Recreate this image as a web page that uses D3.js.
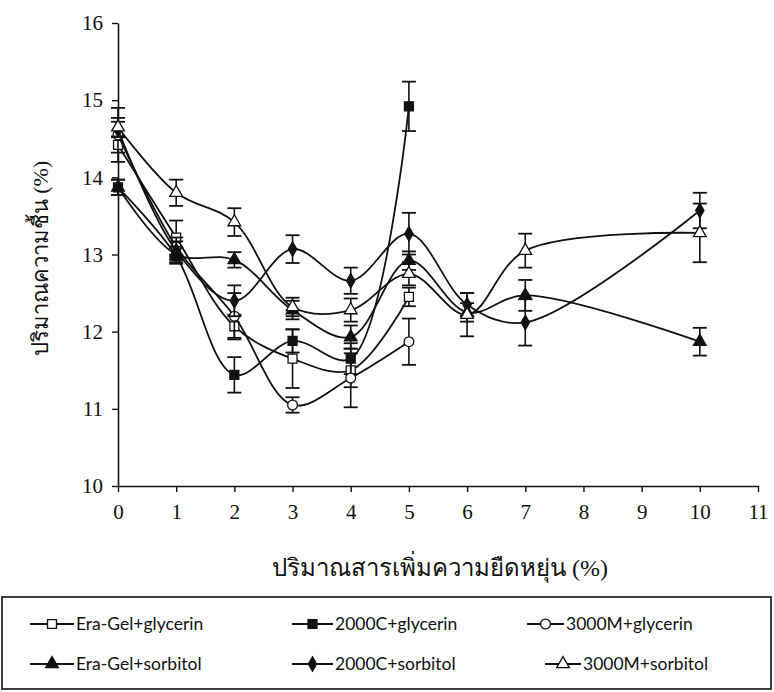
<!DOCTYPE html>
<html>
<head>
<meta charset="utf-8">
<script src="https://cdn.jsdelivr.net/npm/d3@7"></script>
<style>
  html, body { margin: 0; padding: 0; background: #fff; }
  svg { display: block; }
  .serif { font-family: "Liberation Serif", "DejaVu Serif", serif; }
  .legend-text { font-family: Lato, "Open Sans", sans-serif; }
</style>
</head>
<body>
<svg id="chart" width="774" height="692"></svg>
<script>
// Moisture content (%) versus plasticizer amount (%)
const xTicks = [0, 1, 2, 3, 4, 5, 6, 7, 8, 9, 10, 11];
const yTicks = [10, 11, 12, 13, 14, 15, 16];

const xGlycerin = [0, 1, 2, 3, 4, 5];
const xSorbitol = [0, 1, 2, 3, 4, 5, 6, 7, 10];

const eraGelGlycerin = [14.42, 13.22, 12.07, 11.65, 11.50, 12.45];
const eraGelGlycerinErr = [0.10, 0.22, 0.15, 0.38, 0.22, 0.12];

const c2000Glycerin = [13.87, 12.98, 11.44, 11.88, 11.65, 14.92];
const c2000GlycerinErr = [0.10, 0.10, 0.23, 0.15, 0.20, 0.32];

const m3000Glycerin = [14.55, 13.10, 12.20, 11.05, 11.40, 11.87];
const m3000GlycerinErr = [0.35, 0.12, 0.30, 0.10, 0.38, 0.30];

const eraGelSorbitol = [13.87, 13.00, 12.93, 12.28, 11.93, 12.92, 12.25, 12.47, 11.87];
const eraGelSorbitolErr = [0.10, 0.10, 0.10, 0.12, 0.15, 0.12, 0.12, 0.20, 0.18];

const c2000Sorbitol = [14.62, 13.05, 12.40, 13.07, 12.66, 13.27, 12.35, 12.12, 13.57];
const c2000SorbitolErr = [0.10, 0.12, 0.20, 0.18, 0.17, 0.27, 0.15, 0.30, 0.23];

const m3000Sorbitol = [14.65, 13.80, 13.42, 12.32, 12.28, 12.75, 12.22, 13.05, 13.28];
const m3000SorbitolErr = [0.12, 0.17, 0.18, 0.12, 0.15, 0.15, 0.28, 0.22, 0.38];

const seriesNames = ["Era-Gel+glycerin", "2000C+glycerin", "3000M+glycerin",
                     "Era-Gel+sorbitol", "2000C+sorbitol", "3000M+sorbitol"];

const series = [
  { name: seriesNames[0], x: xGlycerin, y: eraGelGlycerin, e: eraGelGlycerinErr, marker: "square", fill: "#fff" },
  { name: seriesNames[1], x: xGlycerin, y: c2000Glycerin, e: c2000GlycerinErr, marker: "square", fill: "#111" },
  { name: seriesNames[2], x: xGlycerin, y: m3000Glycerin, e: m3000GlycerinErr, marker: "circle", fill: "#fff" },
  { name: seriesNames[3], x: xSorbitol, y: eraGelSorbitol, e: eraGelSorbitolErr, marker: "triangle", fill: "#111" },
  { name: seriesNames[4], x: xSorbitol, y: c2000Sorbitol, e: c2000SorbitolErr, marker: "diamond", fill: "#111" },
  { name: seriesNames[5], x: xSorbitol, y: m3000Sorbitol, e: m3000SorbitolErr, marker: "triangle", fill: "#fff" }
];

const ink = "#111";
const svg = d3.select("#chart");

const plot = { left: 118, right: 758, top: 23, bottom: 486 };
const x = d3.scaleLinear().domain([0, 11]).range([plot.left, plot.right]);
const y = d3.scaleLinear().domain([10, 16]).range([plot.bottom, plot.top]);

// Axes
const xAxis = d3.axisBottom(x).tickValues(xTicks).tickFormat(d3.format("d"))
  .tickSize(6).tickSizeOuter(0).tickPadding(12);
const yAxis = d3.axisLeft(y).tickValues(yTicks).tickFormat(d3.format("d"))
  .tickSize(6).tickSizeOuter(0).tickPadding(9);

const gx = svg.append("g").attr("transform", `translate(0,${plot.bottom})`).call(xAxis);
const gy = svg.append("g").attr("transform", `translate(${plot.left},0)`).call(yAxis);
[gx, gy].forEach(g => {
  g.attr("font-family", null).attr("font-size", null);
  g.select(".domain").attr("stroke", ink).attr("stroke-width", 1.6);
  g.selectAll(".tick line").attr("stroke", ink).attr("stroke-width", 1.4);
  g.selectAll(".tick text")
    .attr("class", "serif")
    .attr("fill", ink)
    .attr("font-size", 21);
});

// Axis titles
svg.append("text")
  .attr("class", "serif")
  .attr("transform", `translate(48,${(plot.top + plot.bottom) / 2 + 4}) rotate(-90)`)
  .attr("text-anchor", "middle")
  .attr("fill", ink)
  .attr("font-size", 22)
  .text("ปริมาณความชื้น (%)");

svg.append("text")
  .attr("class", "serif")
  .attr("x", 440)
  .attr("y", 576)
  .attr("text-anchor", "middle")
  .attr("fill", ink)
  .attr("font-size", 24)
  .text("ปริมาณสารเพิ่มความยืดหยุ่น (%)");

// Marker shapes
function markerPath(type) {
  switch (type) {
    case "square": return d3.symbol(d3.symbolSquare, 80)();
    case "circle": return d3.symbol(d3.symbolCircle, 75)();
    case "triangle": return d3.symbol(d3.symbolTriangle, 70)();
    case "diamond": return d3.symbol(d3.symbolDiamond, 60)();
  }
}

const line = d3.line()
  .x(d => x(d.x))
  .y(d => y(d.y))
  .curve(d3.curveCatmullRom.alpha(0.5));

const capHalf = 7;
series.forEach(s => {
  const pts = s.x.map((xv, i) => ({ x: xv, y: s.y[i], e: s.e[i] }));
  const g = svg.append("g");

  g.append("path")
    .datum(pts)
    .attr("d", line)
    .attr("fill", "none")
    .attr("stroke", ink)
    .attr("stroke-width", 1.8);

  const eb = g.selectAll(".eb").data(pts).join("g");
  eb.append("line")
    .attr("x1", d => x(d.x)).attr("x2", d => x(d.x))
    .attr("y1", d => y(d.y - d.e)).attr("y2", d => y(d.y + d.e))
    .attr("stroke", ink).attr("stroke-width", 1.6);
  eb.append("line")
    .attr("x1", d => x(d.x) - capHalf).attr("x2", d => x(d.x) + capHalf)
    .attr("y1", d => y(d.y + d.e)).attr("y2", d => y(d.y + d.e))
    .attr("stroke", ink).attr("stroke-width", 1.8);
  eb.append("line")
    .attr("x1", d => x(d.x) - capHalf).attr("x2", d => x(d.x) + capHalf)
    .attr("y1", d => y(d.y - d.e)).attr("y2", d => y(d.y - d.e))
    .attr("stroke", ink).attr("stroke-width", 1.8);

  g.selectAll(".mk").data(pts).join("path")
    .attr("d", markerPath(s.marker))
    .attr("transform", d => `translate(${x(d.x)},${y(d.y)})`)
    .attr("fill", s.fill)
    .attr("stroke", ink)
    .attr("stroke-width", 1.3);
});

// Legend
const legend = svg.append("g");
legend.append("rect")
  .attr("x", 2).attr("y", 597)
  .attr("width", 769).attr("height", 92)
  .attr("fill", "#fff")
  .attr("stroke", ink)
  .attr("stroke-width", 1.6);

const legendPos = [
  { lx: 30, tx: 76, row: 0 },
  { lx: 292, tx: 335, row: 0 },
  { lx: 527, tx: 566, row: 0 },
  { lx: 30, tx: 76, row: 1 },
  { lx: 292, tx: 335, row: 1 },
  { lx: 545, tx: 583, row: 1 }
];
series.forEach((s, i) => {
  const p = legendPos[i];
  const cy = 624 + p.row * 40;
  const lineEnd = p.tx - 2;
  const g = legend.append("g");
  g.append("line")
    .attr("x1", p.lx).attr("x2", lineEnd)
    .attr("y1", cy).attr("y2", cy)
    .attr("stroke", ink).attr("stroke-width", 1.8);
  g.append("path")
    .attr("d", markerPath(s.marker))
    .attr("transform", `translate(${(p.lx + lineEnd) / 2},${cy})`)
    .attr("fill", s.fill)
    .attr("stroke", ink)
    .attr("stroke-width", 1.3);
  g.append("text")
    .attr("class", "legend-text")
    .attr("x", p.tx).attr("y", cy + 6)
    .attr("fill", ink)
    .attr("font-size", 17.5)
    .text(s.name);
});
</script>
</body>
</html>
